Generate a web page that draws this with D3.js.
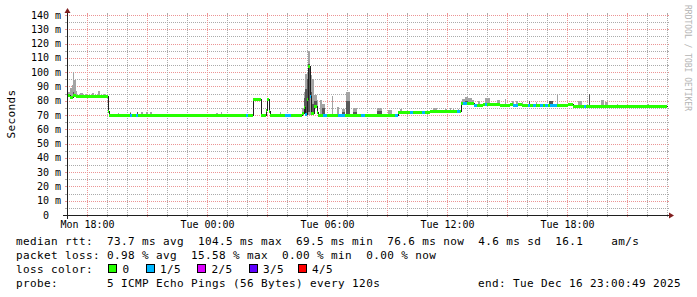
<!DOCTYPE html>
<html><head><meta charset="utf-8">
<script src="https://cdn.jsdelivr.net/npm/d3@7"></script>
<style>
html,body{margin:0;padding:0;background:#fff;}
svg{display:block;}
text{font-family:"DejaVu Sans Mono",monospace;white-space:pre;}
</style></head><body>
<svg id="c" width="697" height="297"></svg>
<script>
// ---------- data ----------
// times are hours since Mon Dec 15 2025 00:00
const rangeStart = 17.0136, rangeEnd = 47.0136;
const yTicks = [0,10,20,30,40,50,60,70,80,90,100,110,120,130,140];
const xTickHours = [18,24,30,36,42];
const xTickLabels = ["Mon 18:00","Tue 00:00","Tue 06:00","Tue 12:00","Tue 18:00"];
// median rtt steps: [startHour, ms, lostPings]
const median = [
[17.01,83.8,0],[17.16,82.8,0],[17.31,84.0,0],[17.46,83.5,0],[18.16,83.2,0],[18.66,83.6,0],
[19.04,73.1,0],[19.11,69.7,0],[20.16,69.7,1],[20.24,69.7,0],[20.46,69.7,1],[20.54,69.7,0],
[25.96,69.7,1],[26.06,69.7,0],[26.29,81.2,0],[26.69,69.7,0],[26.94,73.5,0],[27.01,81.5,0],
[27.09,73.0,0],[27.14,69.7,0],[27.91,69.7,1],[28.19,69.7,0],[28.76,71.4,0],[28.84,75.8,0],
[28.91,71.0,1],[28.99,81.0,0],[29.06,104.5,0],[29.14,83.5,1],[29.21,71.4,0],[29.36,76.5,0],
[29.49,72.0,0],[29.54,69.7,0],[29.81,69.7,1],[30.01,69.7,0],[30.56,69.7,1],[30.91,69.7,0],
[31.71,69.7,1],[31.89,69.7,0],[33.41,69.7,1],[33.56,72.2,0],[34.16,72.2,1],[34.31,72.2,0],
[34.74,72.2,1],[34.89,72.2,0],[35.16,72.6,0],[36.51,72.6,1],[36.66,72.6,0],[36.71,78.2,0],
[36.81,78.2,1],[37.01,78.2,0],[37.36,77.0,1],[37.51,77.0,0],[37.81,77.6,0],[37.91,77.6,1],
[38.01,77.6,0],[38.66,77.2,0],[39.16,78.0,0],[39.31,77.3,1],[39.56,77.6,0],[39.76,76.8,0],
[40.06,76.8,1],[40.16,76.8,0],[40.31,76.8,1],[40.46,76.8,0],[40.66,76.8,1],[40.81,76.8,0],
[40.91,76.8,1],[41.06,76.8,0],[41.16,76.8,1],[41.51,76.8,0],[42.06,77.8,0],[42.31,76.6,0],
[42.86,76.6,1],[42.96,76.6,0]
];
const medianEnd = 47.01;
// smoke: [startHour, endHour, ping1, ping2, ping4, ping5]  (null = at median)
const smoke = [
[17.06,17.16,null,null,null,86.3],[17.16,17.24,null,null,null,88.7],[17.24,17.29,null,null,null,91],
[17.29,17.34,null,null,86,100],[17.34,17.46,null,null,null,94.5],[17.46,17.51,null,null,null,86.5],
[17.66,17.81,null,null,null,85.2],[17.96,18.01,null,null,null,84.8],[18.26,18.36,null,null,null,85.5],
[18.54,18.66,null,null,null,86.8],[18.86,18.91,null,null,null,85],
[19.56,19.61,null,null,null,71.5],[20.16,20.21,null,null,71.5,72],[20.49,20.54,null,null,72,72.3],
[20.71,20.79,null,null,null,72],[20.96,21.04,null,null,null,72.3],[21.16,21.24,null,null,null,71.8],
[21.46,21.51,null,null,null,71],[24.46,24.56,null,null,null,71.6],[24.71,24.76,null,null,null,72.3],
[25.66,25.71,null,null,null,71],[27.66,27.71,null,null,null,72.3],
[28.76,28.84,null,null,null,75],[28.84,28.91,null,null,82,86],[28.91,29.01,69.7,null,88,99],
[29.01,29.06,70,75,95,100],[29.06,29.16,70,72,105.5,114.5],[29.16,29.24,70,null,86,98],
[29.24,29.34,null,null,78,95],[29.36,29.49,null,null,80,84],[29.49,29.54,null,null,76,80.5],
[29.66,29.74,null,null,null,80.5],[29.74,29.91,null,null,75,77.5],[30.26,30.31,null,null,null,83.5],
[30.51,30.59,null,null,null,75.6],[30.76,30.89,null,null,72,74],[30.96,31.14,null,null,79.5,86.3],
[31.31,31.51,null,null,72,75],[32.51,32.76,null,null,72.5,75],[33.06,33.26,null,null,null,73.5],
[33.66,33.76,null,null,null,74],[35.31,35.51,null,null,null,75],[35.91,36.01,null,null,null,74.5],
[36.16,36.21,null,null,null,75],[36.31,36.36,null,null,null,74.5],[36.56,36.61,null,null,null,74.5],
[36.76,36.91,null,null,null,81.5],[36.91,37.06,null,null,80,82.5],[37.06,37.26,null,null,null,82],
[37.26,37.36,null,null,null,80.5],[37.56,37.66,null,null,null,80],[37.91,38.16,null,null,null,81.7],
[38.51,38.66,null,null,null,80.5],[38.91,38.96,null,null,null,81],[39.26,39.36,null,null,null,79.5],
[39.46,39.56,null,null,null,80],[39.76,39.81,null,null,null,79],[40.11,40.16,null,null,80,80],
[40.46,40.51,null,null,null,79],[41.11,41.31,null,null,80,80],[41.49,41.54,null,null,null,85],
[42.56,42.76,null,null,null,79.5],[43.11,43.16,null,null,85,85],[43.71,43.86,null,null,null,80.5],
[43.91,44.06,null,null,null,79],[44.51,44.56,null,null,null,77.5],[45.66,45.71,null,null,null,77.3],
[46.06,46.11,null,null,null,77.5]
];
const lossLabels = ["0","1/5","2/5","3/5","4/5"];
const lossColors = ["#26ff00","#00b8ff","#dd00ff","#5e00ff","#ff0000"];
const legendRows = [
  "median rtt:  73.7 ms avg  104.5 ms max  69.5 ms min  76.6 ms now  4.6 ms sd  16.1    am/s",
  "packet loss: 0.98 % avg  15.58 % max  0.00 % min  0.00 % now",
  "loss color:",
  "probe:       5 ICMP Echo Pings (56 Bytes) every 120s"
];
const endLabel = "end: Tue Dec 16 23:00:49 2025";
const yTitle = "Seconds";
const watermark = "RRDTOOL / TOBI OETIKER";

// ---------- drawing ----------
const base = new Date(2025,11,15,0,0,0).getTime();
const toDate = h => new Date(base + h*3600e3);
const svg = d3.select("#c");
const X0 = 67, X1 = 667, Y0 = 215, Y1 = 15;
const x = d3.scaleTime().domain([toDate(rangeStart), toDate(rangeEnd)]).range([X0, X1]);
const y = d3.scaleLinear().domain([0,140]).range([Y0, Y1]);

svg.append("rect").attr("width",697).attr("height",297).attr("fill","#fff");

const gridMinor = "#ababab", gridMajor = "#eb9595";
const g = svg.append("g").attr("shape-rendering","crispEdges");
// horizontal grid (5 ms minor, 10 ms major)
const hLines = d3.range(5,141,5);
hLines.forEach(v => {
  const yy = Math.round(y(v)) + 0.5;
  const col = v % 10 === 0 ? gridMajor : gridMinor;
  g.append("line").attr("x1",X0-2).attr("x2",X0).attr("y1",yy).attr("y2",yy).attr("stroke",col);
  g.append("line").attr("x1",X1).attr("x2",X1+2).attr("y1",yy).attr("y2",yy).attr("stroke",col);
  g.append("line").attr("x1",X0).attr("x2",X1).attr("y1",yy).attr("y2",yy).attr("stroke",col).attr("stroke-dasharray","1,1");
});
// vertical grid (1 h minor, 3 h major)
const hours = d3.timeHour.every(1).range(toDate(rangeStart), toDate(rangeEnd));
hours.forEach(d => {
  const xx = Math.round(x(d)) + 0.5;
  const col = d.getHours() % 3 === 0 ? gridMajor : gridMinor;
  g.append("line").attr("x1",xx).attr("x2",xx).attr("y1",Y0).attr("y2",Y0+2).attr("stroke",col);
  g.append("line").attr("x1",xx).attr("x2",xx).attr("y1",Y1-2).attr("y2",Y1).attr("stroke",col);
  g.append("line").attr("x1",xx).attr("x2",xx).attr("y1",Y0).attr("y2",Y1).attr("stroke",col).attr("stroke-dasharray","1,1");
});

// median lookup
function medianAt(h){
  let v = median[0][1];
  for (const r of median){ if (r[0] <= h) v = r[1]; else break; }
  return v;
}
// smoke
const sm = svg.append("g").attr("shape-rendering","crispEdges");
smoke.forEach(s => {
  const [t0,t1,p1,p2,p4,p5] = s;
  const m = medianAt((t0+t1)/2);
  const xa = Math.round(x(toDate(t0))), xb = Math.max(xa+1, Math.round(x(toDate(t1))));
  const lo = p1 == null ? m : p1, hi = p5 == null ? m : p5;
  sm.append("rect").attr("x",xa).attr("width",xb-xa)
    .attr("y",Math.round(y(hi))).attr("height",Math.max(1,Math.round(y(lo))-Math.round(y(hi))))
    .attr("fill","#a4a4a4");
  if (p4 != null){
    const dlo = p2 == null ? m : p2;
    sm.append("rect").attr("x",xa).attr("width",xb-xa)
      .attr("y",Math.round(y(p4))).attr("height",Math.max(1,Math.round(y(dlo))-Math.round(y(p4))))
      .attr("fill","#585858");
  }
});

// median black line
const pts = median.map(r => [r[0], r[1]]).concat([[medianEnd, median[median.length-1][1]]]);
svg.append("path").datum(pts)
  .attr("d", d3.line().x(d => Math.round(x(toDate(d[0])))+0.5).y(d => Math.round(y(d[1]))+0.5).curve(d3.curveStepAfter))
  .attr("fill","none").attr("stroke","#202020").attr("stroke-width",1).attr("shape-rendering","crispEdges");

// median loss-coloured band
const band = svg.append("g").attr("shape-rendering","crispEdges");
median.forEach((r,i) => {
  const t1 = i < median.length-1 ? median[i+1][0] : medianEnd;
  const xa = Math.round(x(toDate(r[0]))), xb = Math.round(x(toDate(t1)));
  if (xb <= xa) return;
  band.append("rect").attr("x",xa).attr("width",xb-xa)
    .attr("y",Math.round(y(r[1]))-1).attr("height",3).attr("fill",lossColors[r[2]]);
});

// axes
const ax = svg.append("g").attr("shape-rendering","crispEdges");
ax.append("line").attr("x1",X0-4).attr("x2",X1+4).attr("y1",Y0+0.5).attr("y2",Y0+0.5).attr("stroke","#1f1f1f");
ax.append("line").attr("x1",X0+0.5).attr("x2",X0+0.5).attr("y1",Y0+4).attr("y2",Y1-4).attr("stroke","#1f1f1f");
svg.append("path").attr("d",`M${X1+2},${Y0-2.5}L${X1+2},${Y0+3.5}L${X1+7},${Y0+0.5}Z`).attr("fill","#801f1f");
svg.append("path").attr("d",`M${X0-2.5},${Y1-2}L${X0+3.5},${Y1-2}L${X0+0.5},${Y1-7}Z`).attr("fill","#801f1f");

// y labels
yTicks.forEach(v => {
  svg.append("text").attr("x", v === 0 ? 61-12.04 : 61).attr("y", y(v)+3.6)
    .attr("text-anchor","end").attr("font-size",10).attr("fill","#000")
    .text(v === 0 ? "0" : v + " m");
});
// x labels
xTickHours.forEach((h,i) => {
  svg.append("text").attr("x", Math.round(x(toDate(h)))+0.5).attr("y",227.5)
    .attr("text-anchor","middle").attr("font-size",10).attr("fill","#000").text(xTickLabels[i]);
});
// y title
svg.append("text").attr("transform","translate(15,114) rotate(-90)").attr("text-anchor","middle")
  .attr("font-size",11).attr("letter-spacing",0.38).attr("fill","#000").text(yTitle);
// watermark
svg.append("text").attr("transform","translate(685,5) rotate(90)").attr("text-anchor","start")
  .attr("font-size",8).attr("fill","#b4b4b4").text(watermark);

// legend
const rowY = [245,259,273,287];
legendRows.forEach((t,i) => {
  svg.append("text").attr("x",16).attr("y",rowY[i]).attr("font-size",11).attr("letter-spacing",0.38)
    .attr("fill","#000").text(t);
});
const boxX = [108,145.5,197,248.5,297.5];
lossLabels.forEach((l,i) => {
  svg.append("rect").attr("x",Math.round(boxX[i])+0.5).attr("y",264.5).attr("width",8).attr("height",8)
    .attr("fill",lossColors[i]).attr("stroke","#000").attr("shape-rendering","crispEdges");
  svg.append("text").attr("x",boxX[i]+14.5).attr("y",273).attr("font-size",11).attr("letter-spacing",0.38)
    .attr("fill","#000").text(l);
});
svg.append("text").attr("x",681).attr("y",287).attr("text-anchor","end").attr("font-size",11)
  .attr("letter-spacing",0.38).attr("fill","#000").text(endLabel);
</script>
</body></html>
